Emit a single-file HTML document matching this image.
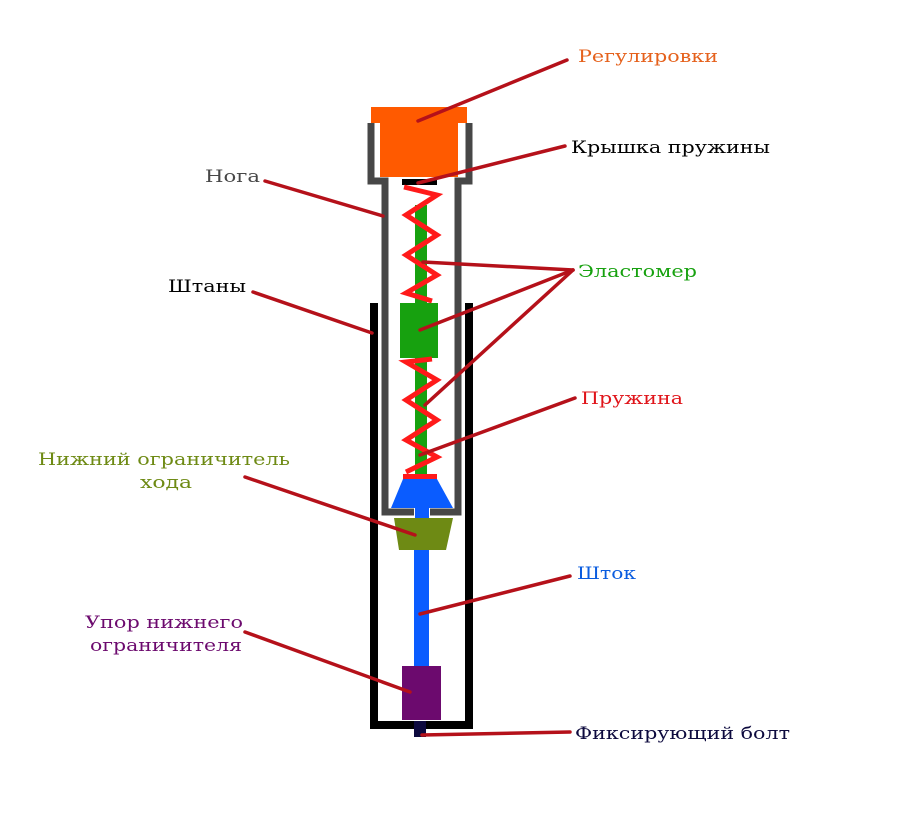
<!DOCTYPE html>
<html><head><meta charset="utf-8"><style>html,body{margin:0;padding:0;background:#fff}svg{display:block}</style></head>
<body>
<svg width="900" height="824" viewBox="0 0 900 824" xmlns="http://www.w3.org/2000/svg" font-family="'DejaVu Serif','Liberation Serif',serif" font-size="17">
<rect width="900" height="824" fill="#fff"/>
<!-- outer pants -->
<path d="M374 303 V725 H469 V303" fill="none" stroke="#000" stroke-width="8"/>
<!-- orange cap -->
<rect x="371" y="107" width="96" height="16" fill="#ff5a00"/>
<rect x="380" y="120" width="78" height="57" fill="#ff5a00"/>
<!-- gray leg -->
<path d="M371 123 V181 H385 V512 H414 M430 512 H458 V181 H469 V123" fill="none" stroke="#474747" stroke-width="7"/>
<!-- green elastomer -->
<rect x="415" y="205" width="12" height="98" fill="#17a10f"/>
<rect x="400" y="303" width="38" height="55" fill="#17a10f"/>
<rect x="415" y="358" width="12" height="118" fill="#17a10f"/>
<!-- spring cap -->
<rect x="402" y="179" width="35" height="6" fill="#000"/>
<!-- springs -->
<polyline points="404,187 437,195 406,215 437,235 406,255 437,275 406,293 432,301" fill="none" stroke="#ff1a1a" stroke-width="5" stroke-linejoin="miter"/>
<polyline points="432,359 406,362 437,380 406,400 437,420 406,440 437,457 406,472" fill="none" stroke="#ff1a1a" stroke-width="5"/>
<rect x="403" y="474" width="34" height="5" fill="#ff1a1a"/>
<!-- blue -->
<polygon points="403,479 437,479 453,508 391,508" fill="#0a5cff"/>
<rect x="415" y="505" width="14" height="16" fill="#0a5cff"/>
<polygon points="394,518 453,518 446,550 399,550" fill="#6e8a14"/>
<rect x="414" y="550" width="15" height="118" fill="#0a5cff"/>
<rect x="402" y="666" width="39" height="54" fill="#6c0a6e"/>
<rect x="414" y="721" width="12" height="16" fill="#0d0a3e"/>
<!-- leaders -->
<g stroke="#b5111a" stroke-width="3.5" stroke-linecap="round" fill="none">
<line x1="567" y1="60" x2="418" y2="121"/>
<line x1="565" y1="146" x2="418" y2="183"/>
<line x1="265" y1="181" x2="383" y2="216"/>
<line x1="253" y1="292" x2="372" y2="333"/>
<line x1="573" y1="270" x2="423" y2="262"/>
<line x1="573" y1="270" x2="420" y2="330"/>
<line x1="573" y1="270" x2="425" y2="405"/>
<line x1="575" y1="398" x2="420" y2="455"/>
<line x1="245" y1="477" x2="415" y2="535"/>
<line x1="570" y1="576" x2="420" y2="614"/>
<line x1="245" y1="632" x2="410" y2="692"/>
<line x1="570" y1="732" x2="422" y2="735"/>
</g>
<!-- labels -->
<text x="578" y="62" fill="#e5611c" textLength="140" lengthAdjust="spacingAndGlyphs">Регулировки</text>
<text x="571" y="153" fill="#000" textLength="199" lengthAdjust="spacingAndGlyphs">Крышка пружины</text>
<text x="205" y="182" fill="#474747" textLength="55" lengthAdjust="spacingAndGlyphs">Нога</text>
<text x="168" y="292" fill="#000" textLength="78" lengthAdjust="spacingAndGlyphs">Штаны</text>
<text x="578" y="277" fill="#17a10f" textLength="119" lengthAdjust="spacingAndGlyphs">Эластомер</text>
<text x="581" y="404" fill="#e0141a" textLength="102" lengthAdjust="spacingAndGlyphs">Пружина</text>
<text x="38" y="465" fill="#6e8a14" textLength="252" lengthAdjust="spacingAndGlyphs">Нижний ограничитель</text>
<text x="140" y="488" fill="#6e8a14" textLength="52" lengthAdjust="spacingAndGlyphs">хода</text>
<text x="577" y="579" fill="#0a5cdf" textLength="59" lengthAdjust="spacingAndGlyphs">Шток</text>
<text x="85" y="628" fill="#6c0a6e" textLength="158" lengthAdjust="spacingAndGlyphs">Упор нижнего</text>
<text x="90" y="651" fill="#6c0a6e" textLength="152" lengthAdjust="spacingAndGlyphs">ограничителя</text>
<text x="575" y="739" fill="#0d0a3e" textLength="215" lengthAdjust="spacingAndGlyphs">Фиксирующий болт</text>
</svg>
</body></html>
